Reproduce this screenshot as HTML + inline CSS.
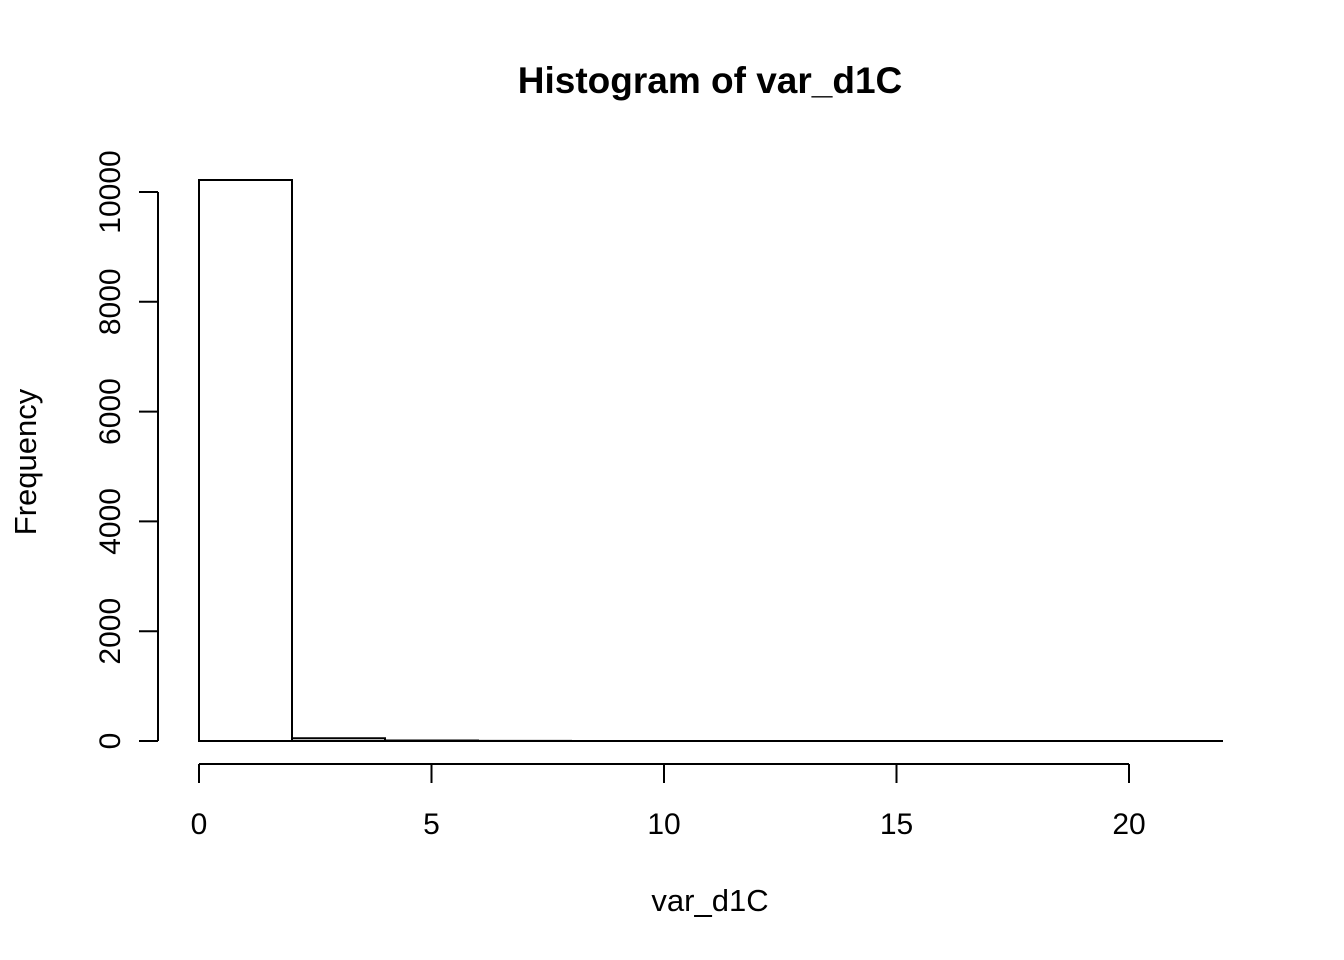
<!DOCTYPE html>
<html><head><meta charset="utf-8"><style>
body{margin:0;background:#fff}
svg{display:block;font-family:"Liberation Sans",Arial,sans-serif}
</style></head><body>
<svg id="c" width="1344" height="960">
<text x="710" y="93" font-size="37" font-weight="bold" text-anchor="middle">Histogram of var_d1C</text>
<text x="710" y="911" font-size="31" text-anchor="middle">var_d1C</text>
<text transform="translate(36,462) rotate(-90)" font-size="31" text-anchor="middle">Frequency</text>
<g id="bars"></g>
<g id="xaxis"></g>
<g id="yaxis"></g>
</svg>
<script>
const binEdges=[0,2,4,6,8,10,12,14,16,18,20,22];
const counts=[10219,50,8,2,1,1,0,0,0,0,1];
const xTicks=[0,5,10,15,20];
const yTicks=[0,2000,4000,6000,8000,10000];
const NS="http://www.w3.org/2000/svg";
const X=v=>199+v*(1129-199)/20;
const Y=v=>741-v*(741-192)/10000;
function mk(t,a,p){const e=document.createElementNS(NS,t);for(const k in a)e.setAttribute(k,a[k]);p.appendChild(e);return e;}
const bars=document.getElementById('bars');
counts.forEach((c,i)=>{
 const x0=X(binEdges[i]),x1=X(binEdges[i+1]),y0=Y(0),y1=Y(c);
 const r=mk('path',{d:`M${x0},${y0}L${x0},${y1}L${x1},${y1}L${x1},${y0}Z`,fill:'#fff',stroke:'#000','stroke-width':2},bars);
 
 
});
const xa=document.getElementById('xaxis');
mk('line',{x1:X(0),x2:X(20),y1:764,y2:764,stroke:'#000','stroke-width':2},xa);
xTicks.forEach(t=>{
 mk('line',{x1:X(t),x2:X(t),y1:764,y2:783,stroke:'#000','stroke-width':2},xa);
 const tx=mk('text',{x:X(t),y:834,'font-size':30,'text-anchor':'middle'},xa);
 tx.textContent=t;
 
 
});
const ya=document.getElementById('yaxis');
mk('line',{x1:158,x2:158,y1:Y(0),y2:Y(10000),stroke:'#000','stroke-width':2},ya);
yTicks.forEach(t=>{
 mk('line',{x1:139,x2:158,y1:Y(t),y2:Y(t),stroke:'#000','stroke-width':2},ya);
 const tx=mk('text',{'font-size':30,'text-anchor':'middle',transform:`translate(120,${Y(t)}) rotate(-90)`},ya);
 tx.textContent=t;
 
 
});
</script>
</body></html>
